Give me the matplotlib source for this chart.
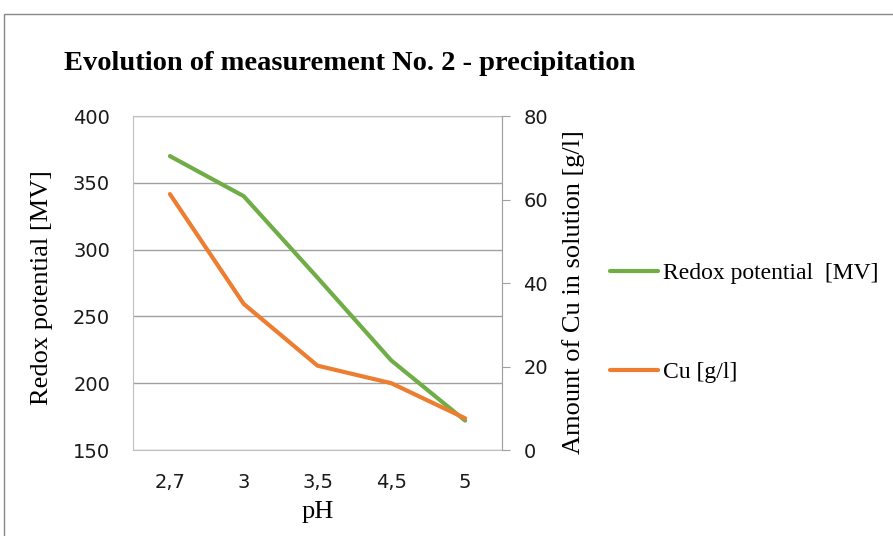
import matplotlib.pyplot as plt
from matplotlib.patches import Rectangle

ph = ["2,7", "3", "3,5", "4,5", "5"]
redox = [370, 340, 279, 217, 172]
cu = [61.3, 35.0, 20.2, 16.0, 7.6]

W, H = 893, 536
fig = plt.figure(figsize=(W / 100, H / 100), dpi=100)

# outer chart border (only top and left edges are visible in the crop)
fig.add_artist(Rectangle((4 / W, -0.1), 1.2, (H - 14) / H + 0.1, transform=fig.transFigure,
                         fill=False, edgecolor="#888888", linewidth=1))

ax = fig.add_axes([133 / W, 1 - 450 / H, 369 / W, 334 / H])
ax2 = ax.twinx()

x = list(range(len(ph)))
l1, = ax.plot(x, redox, color="#70ad47", linewidth=3, solid_capstyle="round")
l2, = ax2.plot(x, cu, color="#ed7d31", linewidth=3, solid_capstyle="round")

ax.set_xlim(-0.5, len(ph) - 0.5)
ax.set_ylim(150, 400)
ax.set_yticks(range(150, 401, 50))
ax2.set_ylim(0, 80)
ax2.set_yticks(range(0, 81, 20))
ax.set_xticks(x)
ax.set_xticklabels(ph)

ax.grid(axis="y", color="#a0a0a0", linewidth=1)
ax.set_axisbelow(True)
for s in ax.spines.values():
    s.set_color("#c0c0c0")
for s in ax2.spines.values():
    s.set_visible(False)
ax2.spines["right"].set_visible(True)
ax2.spines["right"].set_color("#a0a0a0")

ax.tick_params(axis="y", length=0, labelsize=14, pad=16.5, labelcolor="#1a1a1a")
ax.tick_params(axis="x", length=0, labelsize=14, pad=16.5, labelcolor="#1a1a1a")
ax2.tick_params(axis="y", length=6, color="#a0a0a0", labelsize=14, pad=9.5,
                labelcolor="#1a1a1a")

serif = "Liberation Serif"
fig.text(42 / W, 1 - 288 / H, "Redox potential [MV]", family=serif, fontsize=19,
         rotation=90, ha="center", va="center")
fig.text(574 / W, 1 - 292 / H, "Amount of Cu in solution [g/l]", family=serif, fontsize=19,
         rotation=90, ha="center", va="center")
fig.text(318 / W, 1 - 512 / H, "pH", family=serif, fontsize=19, ha="center", va="center")

fig.text(64 / W, 1 - 63 / H, "Evolution of measurement No. 2 - precipitation",
         family=serif, fontsize=20.5, fontweight="bold", va="center")

fig.legend([l1, l2], ["Redox potential  [MV]", "Cu [g/l]"], loc="center left",
           bbox_to_anchor=(610 / W, 1 - 323 / H), frameon=False,
           prop={"family": serif, "size": 17}, labelspacing=3.27,
           handlelength=2.03, handletextpad=0.2, borderpad=0, borderaxespad=0)

fig.savefig("out.png", dpi=100)
